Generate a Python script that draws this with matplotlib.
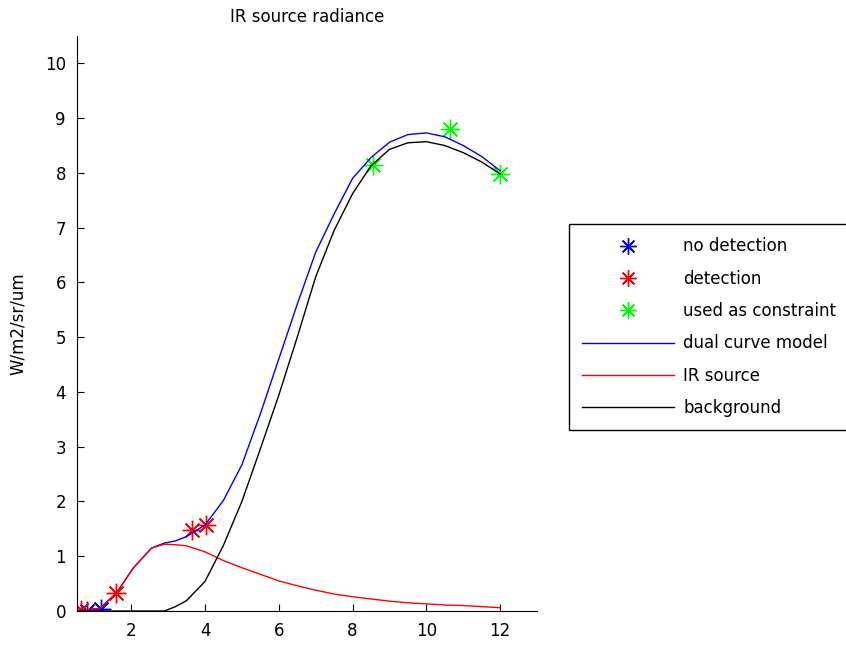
import matplotlib
matplotlib.use("Agg")
import matplotlib.pyplot as plt

# ---- data ----
curve_x = [0.55, 1.15, 1.6, 2.05, 2.55, 2.9, 3.2, 3.5, 4.0, 4.5, 5.0, 5.5, 6.0, 6.5,
           7.0, 7.5, 8.0, 8.5, 9.0, 9.5, 10.0, 10.5, 11.0, 11.5, 12.0]
ir_source = [0.0, 0.05, 0.33, 0.78, 1.15, 1.22, 1.21, 1.19, 1.08, 0.92, 0.79, 0.67, 0.55,
             0.46, 0.38, 0.31, 0.26, 0.22, 0.18, 0.15, 0.13, 0.11, 0.10, 0.08, 0.06]
background = [0.0, 0.0, 0.0, 0.0, 0.0, 0.0, 0.08, 0.19, 0.54, 1.2, 2.0, 2.96, 3.94,
              5.0, 6.1, 6.95, 7.62, 8.13, 8.43, 8.55, 8.57, 8.5, 8.37, 8.2, 7.98]
dual_model = [0.0, 0.05, 0.33, 0.78, 1.15, 1.24, 1.28, 1.36, 1.57, 2.02, 2.67, 3.6, 4.6,
              5.6, 6.55, 7.25, 7.9, 8.28, 8.56, 8.7, 8.73, 8.66, 8.5, 8.3, 8.04]

nodet_x = [0.8, 1.18]
nodet_y = [0.0, 0.03]
det_x = [0.64, 1.59, 3.65, 4.03]
det_y = [0.02, 0.33, 1.48, 1.57]
constr_x = [8.55, 10.63, 12.0]
constr_y = [8.15, 8.8, 7.98]

xticks = [2, 4, 6, 8, 10, 12]
yticks = [0, 1, 2, 3, 4, 5, 6, 7, 8, 9, 10]

plt.rcParams['font.family'] = ['DejaVu Sans']
fig = plt.figure(figsize=(8.46, 6.47), dpi=100)
ax = fig.add_axes([77/846, 36/647, 460/846, 575/647])

star = (8, 2, 0)
ms = 14
ax.plot(nodet_x, nodet_y, linestyle='none', marker=star, color='#0000ff', ms=ms, mew=1,
        label='no detection')
ax.plot(det_x, det_y, linestyle='none', marker=star, color='#ff0000', ms=ms, mew=1,
        label='detection')
ax.plot(constr_x, constr_y, linestyle='none', marker=star, color='#00ff00', ms=ms, mew=1,
        label='used as constraint')
ax.plot(curve_x, dual_model, color='#0000ff', lw=1, label='dual curve model')
ax.plot(curve_x, ir_source, color='#ff0000', lw=1, label='IR source')
ax.plot(curve_x, background, color='black', lw=1, label='background')

ax.set_xlim(0.53, 13.0)
ax.set_ylim(0, 10.5)
ax.set_xticks(xticks)
ax.set_yticks(yticks)
ax.spines['top'].set_visible(False)
ax.spines['right'].set_visible(False)
ax.tick_params(direction='in', length=5, labelsize=12, pad=8)
ax.set_title('IR source radiance', fontsize=12, pad=10)
ax.set_ylabel('W/m2/sr/um', fontsize=12, labelpad=13)

leg = ax.legend(loc='upper left', bbox_to_anchor=(569/846, 1 - 224/647),
                bbox_transform=fig.transFigure, borderaxespad=0, fontsize=12,
                frameon=True, fancybox=False, framealpha=1, edgecolor='black',
                handlelength=5.5, handletextpad=0.55, labelspacing=0.86,
                borderpad=0.8, numpoints=1, markerscale=0.85)
leg.get_frame().set_linewidth(1)

fig.savefig('out.png', dpi=100)
